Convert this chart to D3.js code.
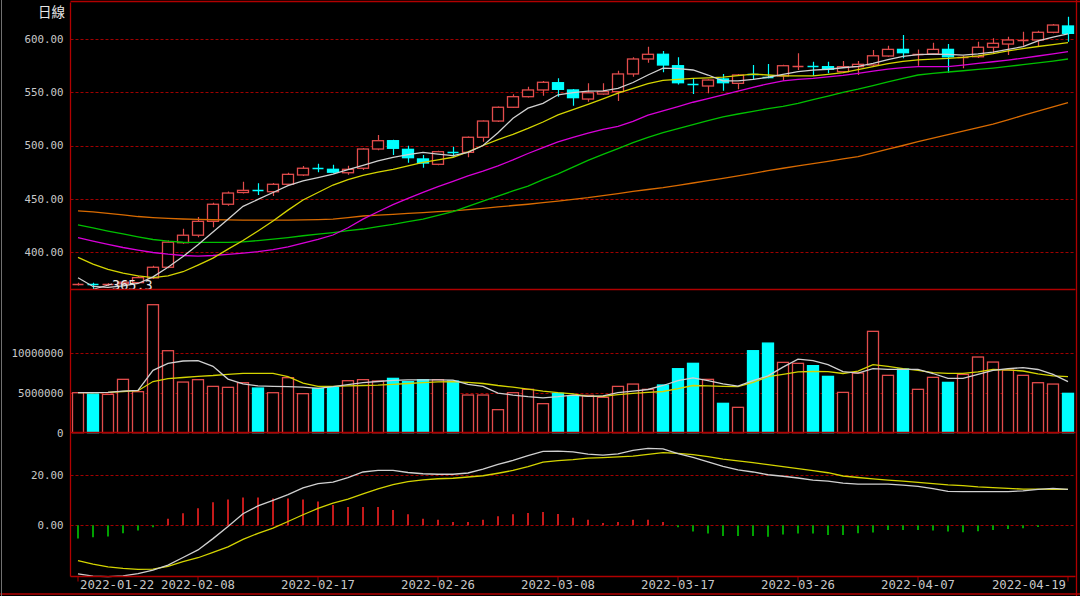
<!DOCTYPE html>
<html><head><meta charset="utf-8">
<script src="https://cdn.jsdelivr.net/npm/d3@7"></script>
<style>html,body{margin:0;padding:0;background:#000;overflow:hidden}</style>
</head><body><svg id="c" width="1080" height="596"></svg>
<script>
// ---------- data ----------
const openP = [370,370.3,369.9,370.5,371.6,376,386,409,416,429,445,456,458.3,456.7,463.7,472.4,478.5,477.7,474.5,478.7,496.7,504.5,496.4,487.4,482.4,493.5,493.6,507.7,522.9,535.8,545.7,552,558.8,552,543.5,548.2,550.4,567,581,585.4,574.7,557.8,555.7,562.3,558.2,566.5,564.6,565.1,574.2,574.6,573.8,569.1,573.8,575.4,583.8,590,585.5,585.7,590,582.4,583.1,592,595,598.6,598.8,606,611.9];
const closeP = [370.2,370,370.1,372,376.3,386,409.5,416,429,445,455.5,458,458,463.7,473,478.7,478.3,475,477.7,496.7,504.5,497.4,488.6,483.6,494.2,493.3,507.7,522.9,535.8,545.7,552,559.2,552.6,544.8,549.4,550.4,567,581,585.4,575.4,558.8,557.6,561.3,558.8,566,566.3,564.4,574.7,574.4,574.4,571.3,573.8,576,584,590,586.9,585.7,590,583.1,582.6,592,595.7,598.8,598.8,606,612.8,605];
const highP = [371.5,371.5,371,373,378,387.5,411,422,433,446.5,457,466,464.6,465,474.5,480.8,483,482,481,497.5,509.8,505.5,499.8,491,495,498.9,508.5,523.5,536.5,548,555,560.5,562.9,553,558.2,558.2,570,582.6,592.5,588.5,582.6,562.3,562,566.9,567,575.4,576.3,575.5,586.3,578.5,578.5,579.1,579.1,589.4,593.5,603.5,590,596.3,595,584,597.2,600.4,601.9,606.6,607.5,613.8,620.6];
const lowP = [368.8,365.3,368.5,369.5,371,375,385,408,414,423.5,443.5,455,453.7,452.7,462.5,471.5,475,474,472.5,477,495.5,491,483.9,479.2,481.5,489.5,488.9,503.6,522,535,545,546.6,545.7,537.3,541,547.5,541.7,564.4,577.5,568.5,557,548.2,548.9,551.3,552.6,561.3,562.9,560.7,570.7,565.1,567.6,568,566,574.5,583,581.6,574.7,585,568.2,572.3,582,586.3,584.7,593.5,593.2,605,597.2];

const ma5 = [376.2,368,367.2,368.5,370.8,377,386,396,407,419,431,443,449.5,456,462.5,466.8,470,473.3,477.5,481.5,485.5,488.9,491.5,493.6,492,490.5,493.5,500,512,525.5,535,539.5,547.5,549.5,551,551.2,553.5,559,566,572.5,572,570.7,566,560.5,560.5,562,563.9,566.5,569.2,570.5,571.4,572.8,574,577,580.5,583.5,585,585.6,585.3,584.7,585.8,587.5,590,592.5,598,601.5,604.5];
const ma10 = [395.3,389,384,380.5,378,376.3,378,381.8,388,394.5,403,411,420,429.3,439.5,449,456,463,468,472,475,477.7,481,484.3,486.5,489,494,500,505.5,510.5,516,522,528.6,533.5,538.5,543.7,549,553.5,558,561,562,562.8,563.3,564,565.5,566.9,566,565.2,565.1,565.1,566.5,568.2,571,573.8,576.6,578.8,580.1,580.9,581.5,582.6,584,586,588.5,590.8,592.7,594.5,596.3];
const ma20 = [413.7,410.5,407.5,404.5,402,399.8,398.2,397,396.5,397,398,399.2,400.6,402.5,405,408.5,412,416.2,423,431,438,444.6,450.5,456.2,461.5,466.5,471.5,476,481,486.5,492.5,498,503.3,507.5,511.5,515,518,522.5,528.5,532.5,536.5,540.5,544,547.5,551,554.5,557.8,560.5,562,562.8,564.2,565.6,567.5,569.7,571.6,573,573.8,573.8,573.8,575.2,576.8,578.4,580,581.8,583.8,585.8,587.8];
const ma30 = [425.6,422.8,419.9,417.2,414.5,412,410.5,409.4,409.2,409.2,409.3,409.8,411,412.4,413.8,415.5,417,418.5,420.2,421.8,424,426.2,428.8,431,434.5,438,443,448,452.6,457.5,462,468,473.5,479.8,486,491.6,497,502.6,507.5,512,515.8,519.5,523.2,526.8,529.5,532,534.5,536.7,539.5,543,546.3,549.8,552.7,556,559.5,562.8,566,567.5,568.8,570,571.2,572.5,574,575.7,577.3,579.1,581];
const ma60 = [438.7,437.8,436.5,435,433.5,432.5,431.8,431.2,430.8,430.5,430.3,430.2,430.2,430.2,430.2,430.3,430.6,431,432.5,434,434.8,435.6,436.4,437.2,438,438.7,440,441.2,442.5,443.8,445,446.5,448,449.6,451.1,453,455,457,458.8,460.5,462.7,464.9,467.1,469.3,471.6,474,476.4,478.7,480.9,483.1,485.2,487.4,489.5,493,496.5,500,503.6,506.9,510.2,513.5,516.8,520.1,524.1,528.1,532.1,536.1,540.1];

const volume = [5000000,4830000,4790000,6670000,5130000,16000000,10250000,6330000,6630000,5790000,5670000,6250000,5580000,5000000,6880000,4880000,5540000,5670000,6500000,6630000,6460000,6790000,6380000,6630000,6630000,6460000,4710000,4710000,2880000,5000000,5420000,3630000,4920000,4580000,4670000,4420000,5790000,6080000,5420000,5960000,8000000,8670000,6670000,3670000,3170000,10250000,11200000,8790000,8670000,8380000,7040000,5040000,7460000,12670000,7170000,7960000,5420000,6920000,6290000,7290000,9460000,8830000,7830000,7170000,6250000,6080000,4920000];
const volMa5 = [5000000,5000000,5050000,5200000,5300000,7800000,8670000,8960000,9000000,8300000,6700000,6100000,5850000,5800000,5750000,5700000,5550000,5750000,6000000,6250000,6400000,6550000,6600000,6600000,6600000,6580000,6040000,5800000,4950000,4700000,4500000,4350000,4500000,4700000,4550000,4600000,5000000,5200000,5400000,5900000,6500000,6850000,6500000,6100000,5830000,6500000,7100000,8200000,9200000,9000000,8500000,7630000,7450000,8000000,7920000,7920000,7920000,7400000,6790000,6790000,7300000,7800000,8000000,8130000,7900000,7300000,6380000];
const volMa10 = [5000000,5020000,5050000,5150000,5250000,6400000,6750000,6900000,7050000,7150000,7300000,7420000,7420000,7420000,7000000,6200000,5800000,5780000,5850000,5900000,5950000,6050000,6150000,6250000,6350000,6380000,6300000,6150000,5900000,5700000,5450000,5200000,5000000,4850000,4550000,4550000,4750000,4920000,5050000,5150000,5500000,5900000,5850000,5800000,5750000,6300000,7000000,7300000,7600000,7650000,7630000,7400000,7700000,8500000,8300000,8000000,7800000,7500000,7420000,7420000,7600000,7900000,7850000,7710000,7350000,7100000,7000000];

const dif = [-19.3,-20.2,-20.4,-20.1,-19.2,-17.8,-15.8,-12.8,-9.8,-5.3,-0.5,4.6,7.7,9.9,12.2,14.9,16.6,17.2,19,21.2,21.8,21.8,21,20.5,20.3,20.3,20.8,22.3,24.2,25.8,27.7,29.4,29.5,29.2,28.3,27.9,28.4,29.8,30.6,30.4,28.5,27,25.2,23.4,22,21.2,20.1,19.5,18.8,18,17.6,16.8,16.4,16.4,16.4,16,15.5,14.6,13.5,13.4,13.4,13.4,13.4,13.7,14.3,14.7,14.3];
const dea = [-14,-15.4,-16.5,-17.1,-17.5,-17.4,-16.3,-14.4,-12.9,-10.8,-8.6,-5.6,-3.2,-1.1,1.5,4.2,6.7,8.8,10.4,12.5,14.5,16.2,17.4,18.1,18.5,18.7,19.2,19.7,20.7,21.8,23.3,25.1,25.7,26.1,26.7,26.9,27.2,27.5,28.2,28.9,28.6,28.1,27.3,26.3,25.6,24.9,24.1,23.3,22.5,21.7,20.9,19.6,19,18.5,18,17.6,17.1,16.6,16.1,15.8,15.3,15,14.7,14.4,14.4,14.3,14.3];
const macdHist = [-5.2,-4.8,-4.5,-3.2,-2.1,-0.8,2.65,4.77,6.75,9.14,10.3,11.1,11.1,10.7,10.7,10.3,9.5,8.08,7.28,7.28,7.28,6.1,4.37,2.65,2.25,1.32,1.32,2.25,3.58,4.37,4.9,5.3,4.5,3.05,2.25,0.93,1.32,2.25,2.25,1.32,-0.8,-2.5,-3.3,-4.24,-4.24,-4.24,-4.6,-3.7,-3.3,-3.3,-3.84,-3.84,-3.2,-2.9,-1.85,-1.85,-1.85,-2.1,-2.5,-2.8,-2.4,-1.85,-1.45,-1.2,-0.66,0,0];

const priceTicks = [400,450,500,550,600];
const volTicks = [5000000,10000000];
const volZeroLabel = [0];
const macdTicks = [0,20];
const dateTickIndex = [0,8,16,24,32,40,48,56,66];
const dateTickLabels = ["2022-01-22","2022-02-08","2022-02-17","2022-02-26","2022-03-08","2022-03-17","2022-03-26","2022-04-07","2022-04-19"];
const lowLabel = "365.3";
const title = "日線";

// ---------- layout ----------
const svg = d3.select("#c");
const X0 = 70.5, X1 = 1075.5;
const P = {top:2.5, bot:289.5}, V = {top:289.5, bot:432.5}, M = {top:432.5, bot:576.5};
const RED = "#e24c4c", CYAN = "#00ffff", GRID = "#a00000", BORDER = "#b00000", LABEL = "#c8c8c8";
const idx = d3.range(openP.length);

const x = d3.scaleBand().domain(idx).range([X0, X1]).paddingInner(0.2).paddingOuter(0.1);
const cx = i => x(i) + x.bandwidth()/2;
const yP = d3.scaleLinear().domain([400,600]).range([252.3,38.7]);
const yV = d3.scaleLinear().domain([0,10000000]).range([432.7,352.7]);
const yM = d3.scaleLinear().domain([0,20]).range([525.3,475]);

svg.append("rect").attr("width",1080).attr("height",596).attr("fill","#000");

// grids
function grid(scale, ticks){
  svg.append("g").selectAll("line").data(ticks).join("line")
    .attr("x1",X0).attr("x2",X1)
    .attr("y1",d=>Math.round(scale(d))+0.5).attr("y2",d=>Math.round(scale(d))+0.5)
    .attr("stroke",GRID).attr("stroke-dasharray","3,2").attr("stroke-width",1);
}
grid(yP, priceTicks); grid(yV, volTicks); grid(yM, macdTicks);

// axes labels
function leftAxis(scale, ticks, fmt, fs){
  const g = svg.append("g").attr("transform",`translate(${X0},0)`)
    .call(d3.axisLeft(scale).tickValues(ticks).tickFormat(fmt).tickSize(0).tickPadding(7));
  g.select(".domain").remove();
  g.selectAll("text").attr("fill",LABEL).style("font-family","'DejaVu Sans Mono',monospace").style("font-size",fs||"10.8px");
}
leftAxis(yP, priceTicks, d3.format(".2f"));
leftAxis(yV, volTicks.concat(volZeroLabel), d=>String(d));
leftAxis(yM, macdTicks, d3.format(".2f"));

// clip for price panel
svg.append("clipPath").attr("id","pc").append("rect").attr("x",X0).attr("y",P.top).attr("width",X1-X0).attr("height",P.bot-P.top);

const gP = svg.append("g").attr("clip-path","url(#pc)");

// candles
idx.forEach(i=>{
  const up = closeP[i] >= openP[i];
  const col = up ? RED : CYAN;
  const c = Math.round(cx(i)) + 0.5;
  gP.append("line").attr("x1",c).attr("x2",c).attr("y1",yP(highP[i])).attr("y2",yP(lowP[i])).attr("stroke",col).attr("stroke-width",1.2);
  const yt = yP(Math.max(openP[i],closeP[i])), yb = yP(Math.min(openP[i],closeP[i]));
  const bx = Math.round(x(i)) + 0.5, bw = Math.round(x.bandwidth()) - 1;
  if (yb - yt < 1.2) {
    gP.append("line").attr("x1",bx).attr("x2",bx+bw).attr("y1",Math.round(yt)+0.5).attr("y2",Math.round(yt)+0.5).attr("stroke",col).attr("stroke-width",1.4);
  } else {
    gP.append("rect").attr("x",bx).attr("y",yt).attr("width",bw).attr("height",yb-yt)
      .attr("fill", up ? "#000" : CYAN).attr("stroke",col).attr("stroke-width",1.3);
  }
});

// MA lines
function maLine(g, data, scale, color, w){
  g.append("path").datum(data).attr("fill","none").attr("stroke",color).attr("stroke-width",w||1.3)
    .attr("d", d3.line().x((d,i)=>cx(i)).y(d=>scale(d)));
}
maLine(gP, ma60, yP, "#d86a00");
maLine(gP, ma30, yP, "#00c000");
maLine(gP, ma20, yP, "#d800d8");
maLine(gP, ma10, yP, "#d4d400");
maLine(gP, ma5, yP, "#d0d0d0");

// low label
gP.append("line").attr("x1",cx(1)).attr("y1",yP(lowP[1])).attr("x2",cx(2)+4).attr("y2",284).attr("stroke","#d8d8d8").attr("stroke-width",1);
gP.append("text").attr("x",112).attr("y",290).text(lowLabel).attr("fill","#e8e8e8")
  .style("font-family","'DejaVu Sans Mono',monospace").style("font-size","13.5px");

// volume bars
idx.forEach(i=>{
  const up = closeP[i] >= openP[i];
  const bx = Math.round(x(i)) + 0.5, bw = Math.round(x.bandwidth()) - 1;
  const yt = yV(volume[i]);
  svg.append("rect").attr("x",bx).attr("y",yt).attr("width",bw).attr("height",yV(0)-yt)
    .attr("fill", up ? "#000" : CYAN).attr("stroke", up ? RED : CYAN).attr("stroke-width",1.3);
});
const gV = svg.append("g");
maLine(gV, volMa10, yV, "#d4d400");
maLine(gV, volMa5, yV, "#d0d0d0");

// macd
idx.forEach(i=>{
  if (macdHist[i] === 0) return;
  const c = Math.round(cx(i));
  svg.append("line").attr("x1",c).attr("x2",c).attr("y1",yM(0)).attr("y2",yM(macdHist[i]))
    .attr("stroke", macdHist[i] > 0 ? "#c41a1a" : "#00a000").attr("stroke-width",2);
});
const gM = svg.append("g");
maLine(gM, dea, yM, "#d4d400");
maLine(gM, dif, yM, "#d0d0d0");

// borders
const b = svg.append("g").attr("stroke",BORDER).attr("stroke-width",1.3).attr("fill","none");
b.append("line").attr("x1",X0).attr("x2",X0).attr("y1",P.top).attr("y2",M.bot);
b.append("line").attr("x1",X1+1).attr("x2",X1+1).attr("y1",0).attr("y2",596);
b.append("line").attr("x1",X0).attr("x2",1080).attr("y1",P.top-1).attr("y2",P.top-1);
b.append("line").attr("x1",X0).attr("x2",X1).attr("y1",P.bot).attr("y2",P.bot);
b.append("line").attr("x1",X0).attr("x2",X1).attr("y1",V.bot).attr("y2",V.bot);
b.append("line").attr("x1",X0).attr("x2",X1).attr("y1",M.bot).attr("y2",M.bot);
b.append("line").attr("x1",0).attr("x2",1080).attr("y1",594).attr("y2",594);
svg.append("line").attr("x1",1.5).attr("x2",1.5).attr("y1",0).attr("y2",596).attr("stroke","#707070");

// x axis
const xa = svg.append("g").attr("transform",`translate(0,${M.bot})`)
  .call(d3.axisBottom(x).tickValues(dateTickIndex).tickSize(5).tickPadding(3)
    .tickFormat(d=>dateTickLabels[dateTickIndex.indexOf(d)]));
xa.select(".domain").remove();
xa.selectAll(".tick line").attr("stroke",BORDER);
xa.selectAll("text").attr("fill",LABEL).style("font-family","'DejaVu Sans Mono',monospace").style("font-size","12.3px")
  .attr("y",3).attr("dy","0.8em");
const nT = dateTickIndex.length;
xa.selectAll(".tick").each(function(d,k){
  const t = d3.select(this).select("text");
  if (k === 0) t.attr("text-anchor","start").attr("x", 80 - cx(d));
  if (k === nT-1) t.attr("text-anchor","end").attr("x", 1066 - cx(d));
});

// title
svg.append("text").attr("x",38).attr("y",17).text(title).attr("fill","#e6e6e6")
  .style("font-family","'Noto Sans CJK TC',sans-serif").style("font-size","13.5px");
</script></body></html>
